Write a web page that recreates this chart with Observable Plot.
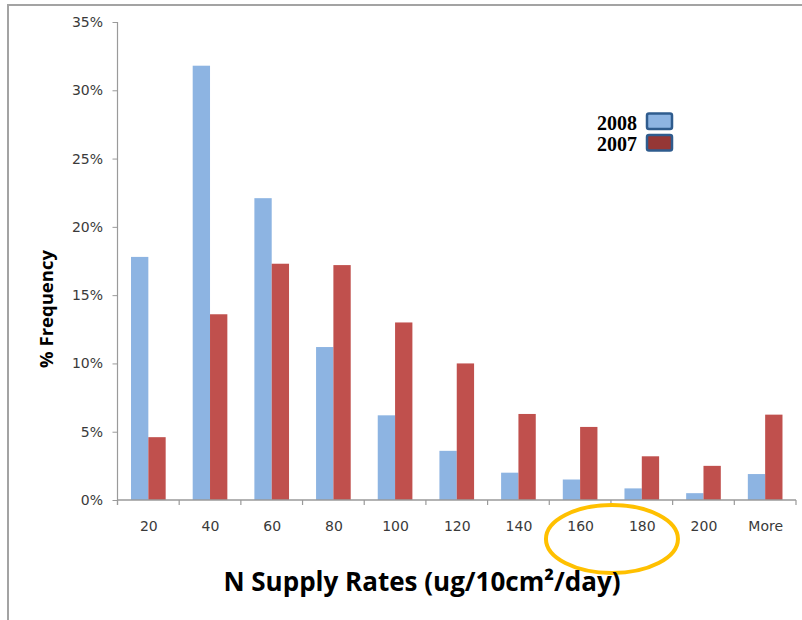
<!DOCTYPE html>
<html><head><meta charset="utf-8">
<script src="https://cdn.jsdelivr.net/npm/d3@7"></script>
<script src="https://cdn.jsdelivr.net/npm/@observablehq/plot@0.6"></script>
<style>
body{margin:0;background:#fff;}
#wrap{position:relative;width:802px;height:620px;overflow:hidden;background:#fff;}
#border{position:absolute;left:7px;top:4px;right:-10px;bottom:-10px;border-top:2px solid #a3a3a3;border-left:2px solid #a3a3a3;}
#wrap svg{position:absolute;left:0;top:0;}
#wrap svg g[aria-label="y-axis tick"]{color:#9a9a9a;}
#wrap svg g[aria-label="y-axis tick label"], #wrap svg g[aria-label="fx-axis tick label"]{fill:#3a3a3a;font-size:14px;}
</style></head><body><div id="wrap"><div id="border"></div></div>
<script>
const categories = ["20","40","60","80","100","120","140","160","180","200","More"];
const series = ["2008","2007"];
const values2008 = [17.8, 31.8, 22.1, 11.2, 6.2, 3.6, 2.0, 1.5, 0.85, 0.5, 1.9];
const values2007 = [4.6, 13.6, 17.3, 17.2, 13.0, 10.0, 6.3, 5.35, 3.2, 2.5, 6.25];
const yTicks = [0, 5, 10, 15, 20, 25, 30, 35];
const barColors = ["#8DB4E2", "#C0504D"];
const legendFills = ["#8DB4E2", "#953735"];
const xTitle = "N Supply Rates (ug/10cm\u00B2/day)";
const yTitle = "% Frequency";

const data = categories.flatMap((c, i) => [
  {cat: c, year: series[0], value: values2008[i] / 100},
  {cat: c, year: series[1], value: values2007[i] / 100}
]);

const plot = Plot.plot({
  width: 802, height: 620,
  marginLeft: 117.5, marginRight: 6, marginTop: 22, marginBottom: 120,
  style: {fontFamily: "'DejaVu Sans', sans-serif", fontSize: "14px", background: "transparent", color: "#3a3a3a"},
  fx: {domain: categories, padding: 0, round: false, label: null, tickSize: 0, tickPadding: 21},
  x: {domain: series, paddingInner: 0, paddingOuter: 0.78, round: false, axis: null},
  y: {domain: [0, 0.35], ticks: yTicks.map(t => t / 100), tickFormat: d3.format(".0%"), tickSize: 5, tickPadding: 10, label: null},
  color: {domain: series, range: barColors},
  marks: [
    Plot.barY(data, {fx: "cat", x: "year", y: "value", fill: "year"})
  ]
});
document.getElementById("wrap").appendChild(plot);

// annotations using the plot's own scales
const svg = d3.select(plot);
const fx = plot.scale("fx"), y = plot.scale("y");
const y0 = y.apply(0), yTop = y.apply(0.35);
const left = fx.apply(categories[0]);
const right = fx.apply(categories[categories.length - 1]) + fx.bandwidth;
const g = svg.append("g").attr("text-anchor", "start");
g.append("line").attr("x1", left).attr("x2", left).attr("y1", yTop).attr("y2", y0 + 5)
  .attr("stroke", "#9a9a9a").attr("stroke-width", 1.2);
g.append("line").attr("x1", left).attr("x2", right).attr("y1", y0).attr("y2", y0)
  .attr("stroke", "#9a9a9a").attr("stroke-width", 1.5);
const bounds = categories.map(c => fx.apply(c)).concat([right]);
g.selectAll("line.tk").data(bounds).join("line").attr("class", "tk")
  .attr("x1", d => d).attr("x2", d => d).attr("y1", y0).attr("y2", y0 + 5)
  .attr("stroke", "#9a9a9a").attr("stroke-width", 1.2);

// highlight ellipse around 160 / 180
const cx = fx.apply("180") + 1;
g.append("ellipse").attr("cx", cx).attr("cy", y0 + 39).attr("rx", 66).attr("ry", 34)
  .attr("fill", "none").attr("stroke", "#FFC000").attr("stroke-width", 4);

// titles
g.append("text").text(xTitle).attr("x", 422).attr("y", 591).attr("text-anchor", "middle")
  .attr("font-family", "'Open Sans', sans-serif").attr("font-weight", "bold").attr("font-size", 26).attr("fill", "#000");
g.append("text").text(yTitle).attr("transform", "translate(53,309) rotate(-90)").attr("text-anchor", "middle")
  .attr("font-family", "'Open Sans', sans-serif").attr("font-weight", "bold").attr("font-size", 18.5).attr("fill", "#000");

// legend
const lg = g.append("g");
series.forEach((s, i) => {
  const by = 113.5 + i * 21.5;
  lg.append("text").text(s).attr("x", 597).attr("y", by + 16).attr("text-anchor", "start")
    .attr("font-family", "'Liberation Serif', 'Times New Roman', serif")
    .attr("font-weight", "bold").attr("font-size", 20).attr("fill", "#000");
  lg.append("rect").attr("x", 647).attr("y", by).attr("width", 25).attr("height", 15.5).attr("rx", 2)
    .attr("fill", legendFills[i]).attr("stroke", "#2F5C8E").attr("stroke-width", 2.5);
});
</script></body></html>
